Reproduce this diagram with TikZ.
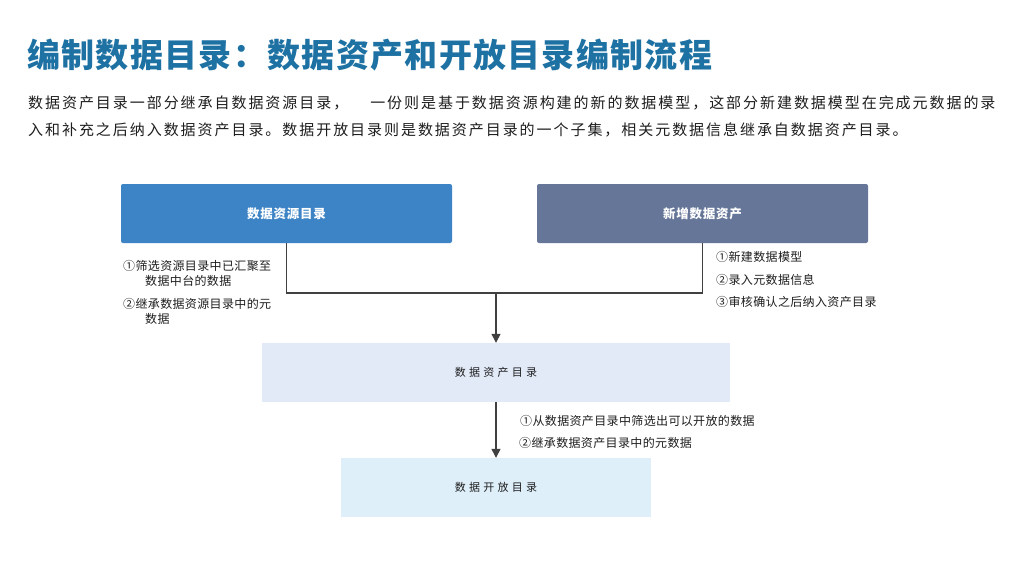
\documentclass[tikz,border=0pt]{standalone}
\usepackage{fontspec}
\setmainfont{Noto Sans CJK SC}
\newfontfamily\titlefont[LetterSpace=4]{Noto Sans CJK SC}
\newfontfamily\bodyfont[LetterSpace=13]{Noto Sans CJK SC}
\newfontfamily\notefont[LetterSpace=3]{Noto Sans CJK SC}
\newfontfamily\boxfont[LetterSpace=6]{Noto Sans CJK SC}
\newfontfamily\widefont[LetterSpace=30]{Noto Sans CJK SC}
\usetikzlibrary{arrows.meta,positioning}
\definecolor{titleblue}{RGB}{30,113,163}
\definecolor{darktext}{RGB}{30,30,30}
\definecolor{srcblue}{RGB}{61,132,198}
\definecolor{newslate}{RGB}{101,118,152}
\definecolor{assetbg}{RGB}{226,234,248}
\definecolor{openbg}{RGB}{222,239,250}
\definecolor{linegray}{RGB}{64,64,64}

\begin{document}
\begin{tikzpicture}[x=1pt,y=-1pt,
  topbox/.style={rounded corners=2pt,minimum width=331pt,minimum height=59pt,
                 inner sep=0pt,text=white,font=\boxfont\bfseries\fontsize{12.5}{14}\selectfont},
  catbox/.style={minimum height=59pt,inner sep=0pt,text=darktext,
                 font=\widefont\fontsize{11}{13}\selectfont},
  note/.style={anchor=north west,inner sep=0pt,align=left,text=darktext,
               font=\notefont\fontsize{12}{15.5}\selectfont},
  body/.style={anchor=west,inner sep=0pt,text=darktext,
               font=\bodyfont\fontsize{15}{17}\selectfont},
  link/.style={draw=linegray,line width=1.3pt},
  arrow/.style={link,-{Triangle[length=9pt,width=9pt]}}
]
\useasboundingbox (0,0) rectangle (1024,575);
\fill[white] (0,0) rectangle (1024,575);

% heading
\node[anchor=west,inner sep=0pt,text=titleblue,
      font=\titlefont\bfseries\fontsize{33}{36}\selectfont] (title) at (27,55)
  {编制数据目录：数据资产和开放目录编制流程};
\node[body] (para1) at (28,103)
  {数据资产目录一部分继承自数据资源目录，\hspace{22pt}一份则是基于数据资源构建的新的数据模型，这部分新建数据模型在完成元数据的录};
\node[body] (para2) at (28,130)
  {入和补充之后纳入数据资产目录。数据开放目录则是数据资产目录的一个子集，相关元数据信息继承自数据资产目录。};

% boxes
\node[topbox,fill=srcblue] (src) at (286.5,213.5) {数据资源目录};
\node[topbox,fill=newslate] (newa) at (702.5,213.5) {新增数据资产};
\node[catbox,fill=assetbg,minimum width=468pt] (cat) at (496,372.5) {数据资产目录};
\node[catbox,fill=openbg,minimum width=310pt] (open) at (496,487.5) {数据开放目录};

% connectors
\coordinate (join) at (496,293);
\coordinate (jr) at (newa.south |- join);
\draw[link] (src.south) |- (jr) -- (newa.south);
\draw[arrow] (join) -- (cat.north);
\draw[arrow] (cat.south) -- (open.north);

% notes
\node[note] (s1) at (123,260) {①筛选资源目录中已汇聚至\\\hspace*{22pt}数据中台的数据};
\node[note] (s2) at (123,298) {②继承数据资源目录中的元\\\hspace*{22pt}数据};
\node[note] (n1) at (716,251) {①新建数据模型};
\node[note] (n2) at (716,274) {②录入元数据信息};
\node[note] (n3) at (716,296) {③审核确认之后纳入资产目录};
\node[note] (o1) at (520,415) {①从数据资产目录中筛选出可以开放的数据};
\node[note] (o2) at (519,437) {②继承数据资产目录中的元数据};
\end{tikzpicture}
\end{document}
